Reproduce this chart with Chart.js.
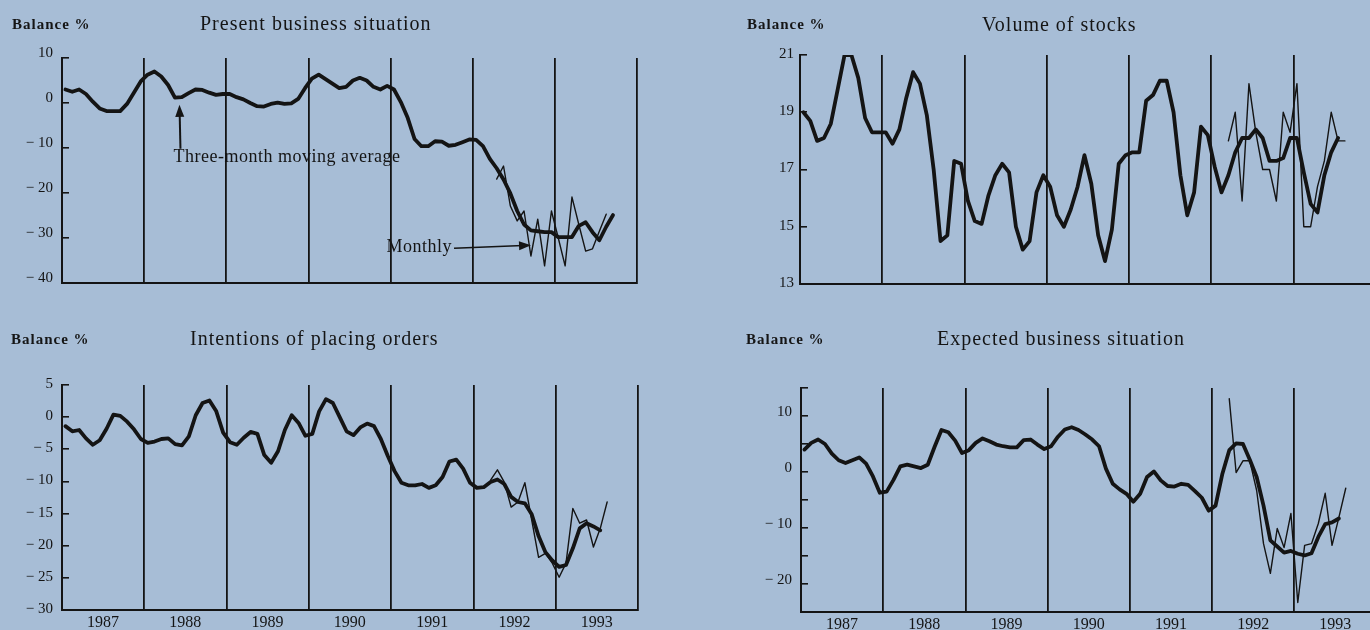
<!DOCTYPE html>
<html>
<head>
<meta charset="utf-8">
<title>Business survey balances</title>
<script src="https://cdn.jsdelivr.net/npm/chart.js@4.4.1/dist/chart.umd.min.js"></script>
<style>
  html, body { margin: 0; padding: 0; }
  body {
    width: 1370px; height: 630px; position: relative; overflow: hidden;
    background: #a7bdd6;
    font-family: "Liberation Serif", "DejaVu Serif", serif; color: #151515;
  }
  .panel { position: absolute; width: 685px; height: 315px; }
  .lbl { position: absolute; white-space: nowrap; line-height: 1; }
  .unit { font-size: 15px; font-weight: bold; letter-spacing: 1px; }
  .title { font-size: 20px; letter-spacing: 1px; }
</style>
</head>
<body>
<div class="panel" style="left:0;top:0"><canvas id="present"></canvas></div>
<div class="panel" style="left:685px;top:0"><canvas id="stocks"></canvas></div>
<div class="panel" style="left:0;top:315px"><canvas id="orders"></canvas></div>
<div class="panel" style="left:685px;top:315px"><canvas id="expected"></canvas></div>

<div class="lbl unit" style="left:12px;top:17px">Balance %</div>
<div class="lbl title" style="left:200px;top:13px">Present business situation</div>
<div class="lbl unit" style="left:747px;top:17px">Balance %</div>
<div class="lbl title" style="left:982px;top:14px">Volume of stocks</div>
<div class="lbl unit" style="left:11px;top:332px">Balance %</div>
<div class="lbl title" style="left:190px;top:328px">Intentions of placing orders</div>
<div class="lbl unit" style="left:746px;top:332px">Balance %</div>
<div class="lbl title" style="left:937px;top:328px">Expected business situation</div>

<script>
const INK = '#141414';
const FONT = '"Liberation Serif", "DejaVu Serif", serif';

// year boundaries (vertical rules) and the labels between them
const years = [1987, 1988, 1989, 1990, 1991, 1992, 1993, 1994];
const yearLabels = ['1987', '1988', '1989', '1990', '1991', '1992', '1993'];

// monthly points, index 0 = January 1987
const presentAvg = [
  3.0, 2.5, 3.0, 2.0, 0.3, -1.2, -1.8, -1.8, -1.8, -0.2, 2.3, 4.8,
  6.3, 7.0, 5.9, 4.0, 1.2, 1.3, 2.2, 3.0, 2.9, 2.3, 1.8, 2.0,
  2.0, 1.3, 0.8, 0.0, -0.7, -0.8, -0.2, 0.1, -0.2, -0.1, 0.9, 3.3,
  5.4, 6.3, 5.3, 4.3, 3.3, 3.6, 5.0, 5.6, 5.0, 3.6, 3.0, 3.8,
  3.0, 0.2, -3.3, -8.0, -9.6, -9.6, -8.5, -8.6, -9.5, -9.3, -8.7, -8.1,
  -8.2, -9.6, -12.4, -14.5, -17.0, -20.1, -24.0, -27.0, -28.3, -28.5, -28.7, -28.7,
  -29.8, -29.8, -29.8, -27.3, -26.5, -28.7, -30.5, -27.5, -24.9
];
const presentMonthlyStart = 63;
const presentMonthly = [
  -16.9, -14, -22.9, -26.2, -24, -34, -25.8, -36.2, -24, -30, -36.2, -20.9,
  -27, -32.9, -32.4, -28.5, -24.7
];
const presentTicks = [-40, -30, -20, -10, 0, 10];

const stocksAvg = [
  19.0, 18.7, 18.0, 18.1, 18.6, 19.8, 21.0, 21.0, 20.2, 18.8, 18.3, 18.3,
  18.3, 17.9, 18.4, 19.5, 20.4, 20.0, 18.9, 17.0, 14.5, 14.7, 17.3, 17.2,
  15.9, 15.2, 15.1, 16.1, 16.8, 17.2, 16.9, 15.0, 14.2, 14.5, 16.2, 16.8,
  16.4, 15.4, 15.0, 15.6, 16.4, 17.5, 16.5, 14.7, 13.8, 14.9, 17.2, 17.5,
  17.6, 17.6, 19.4, 19.6, 20.1, 20.1, 19.0, 16.8, 15.4, 16.2, 18.5, 18.2,
  17.1, 16.2, 16.8, 17.6, 18.1, 18.1, 18.4, 18.1, 17.3, 17.3, 17.4, 18.1,
  18.1, 16.9, 15.8, 15.5, 16.8, 17.6, 18.1
];
const stocksMonthlyStart = 62;
const stocksMonthly = [
  18.0, 19.0, 15.9, 20.0, 18.3, 17.0, 17.0, 15.9, 19.0, 18.3, 20.0, 15.0,
  15.0, 16.4, 17.3, 19.0, 18.0, 18.0
];
const stocksTicks = [13, 15, 17, 19, 21];

const ordersAvg = [
  -1.4, -2.2, -2.0, -3.3, -4.3, -3.6, -1.8, 0.4, 0.2, -0.7, -1.9, -3.4,
  -4.0, -3.8, -3.4, -3.3, -4.2, -4.4, -3.0, 0.3, 2.2, 2.6, 0.9, -2.4,
  -3.9, -4.3, -3.2, -2.3, -2.6, -5.9, -7.1, -5.3, -2.0, 0.3, -0.9, -2.9,
  -2.6, 0.9, 2.8, 2.2, 0.0, -2.2, -2.8, -1.6, -1.0, -1.4, -3.4, -6.0,
  -8.4, -10.2, -10.6, -10.6, -10.4, -11.0, -10.6, -9.3, -6.9, -6.6, -8.0, -10.2,
  -11.0, -10.9, -10.1, -9.7, -10.4, -12.4, -13.2, -13.4, -15.1, -18.5, -21.0, -22.3,
  -23.3, -23.0, -20.4, -17.3, -16.5, -17.0, -17.6
];
const ordersMonthlyStart = 62;
const ordersMonthly = [
  -9.8, -8.2, -10.1, -14, -13.2, -10.2, -16, -21.8, -21.2, -22.7, -24.9, -22.7,
  -14.2, -16.5, -16, -20.2, -17.3, -13.2
];
const ordersTicks = [-30, -25, -20, -15, -10, -5, 0, 5];

const expectAvg = [
  4.0, 5.2, 5.8, 5.0, 3.3, 2.1, 1.6, 2.1, 2.6, 1.5, -0.8, -3.7,
  -3.5, -1.4, 1.0, 1.3, 1.0, 0.7, 1.3, 4.5, 7.5, 7.1, 5.6, 3.4,
  3.9, 5.2, 6.0, 5.5, 4.9, 4.6, 4.4, 4.4, 5.7, 5.8, 4.9, 4.1,
  4.6, 6.3, 7.6, 8.0, 7.5, 6.7, 5.8, 4.6, 0.6, -2.1, -3.1, -3.9,
  -5.3, -3.9, -0.9, 0.1, -1.5, -2.5, -2.6, -2.1, -2.3, -3.4, -4.6, -6.9,
  -6.0, -0.3, 3.9, 5.1, 5.0, 2.2, -0.9, -6.0, -12.2, -13.3, -14.4, -14.1,
  -14.6, -14.9, -14.5, -11.6, -9.3, -9.0, -8.3
];
const expectMonthlyStart = 62;
const expectMonthly = [
  13.1, -0.1, 2, 2, -3.3, -12.8, -18.1, -10.1, -13.5, -7.4, -23.3, -13.1,
  -12.8, -9.2, -3.8, -13.1, -8.1, -2.9
];
const expectTicks = [-25, -20, -15, -10, -5, 0, 5, 10, 15];
const expectLabelled = [-20, -10, 0, 10];

function toPoints(values, start) {
  return values.map((v, i) => ({ x: 1987 + (start + i + 0.5) / 12, y: v }));
}

function signed(v) {
  return v < 0 ? '\u2212 ' + Math.abs(v) : String(v);
}

function drawArrow(ctx, x1, y1, x2, y2) {
  const a = Math.atan2(y2 - y1, x2 - x1);
  ctx.beginPath();
  ctx.moveTo(x1, y1);
  ctx.lineTo(x2 - 8 * Math.cos(a), y2 - 8 * Math.sin(a));
  ctx.stroke();
  ctx.beginPath();
  ctx.moveTo(x2, y2);
  ctx.lineTo(x2 - 12 * Math.cos(a) + 4.5 * Math.sin(a), y2 - 12 * Math.sin(a) - 4.5 * Math.cos(a));
  ctx.lineTo(x2 - 12 * Math.cos(a) - 4.5 * Math.sin(a), y2 - 12 * Math.sin(a) + 4.5 * Math.cos(a));
  ctx.closePath();
  ctx.fill();
}

// labels and arrows pointing at the two series in the first panel
const seriesNotes = {
  id: 'seriesNotes',
  afterDatasetsDraw(chart) {
    const { ctx, scales: { x, y } } = chart;
    ctx.save();
    ctx.fillStyle = INK;
    ctx.strokeStyle = INK;
    ctx.lineWidth = 2;
    ctx.font = '18px ' + FONT;
    ctx.letterSpacing = '0.5px';
    ctx.textBaseline = 'middle';

    const ax = x.getPixelForValue(1988.43), ay = y.getPixelForValue(-0.4);
    drawArrow(ctx, ax + 1, ay + 44, ax, ay);
    ctx.textAlign = 'left';
    ctx.fillText('Three-month moving average', ax - 6, ay + 52);

    const mx = x.getPixelForValue(1992.71), my = y.getPixelForValue(-31.6);
    ctx.lineWidth = 1.6;
    drawArrow(ctx, mx - 77, my + 3, mx, my);
    ctx.textAlign = 'right';
    ctx.fillText('Monthly', mx - 79, my + 2);
    ctx.restore();
  }
};

function buildPanel(id, cfg) {
  const ctx = document.getElementById(id).getContext('2d');
  return new Chart(ctx, {
    type: 'line',
    data: {
      datasets: [
        { label: 'Three-month moving average', data: toPoints(cfg.avg, 0), borderColor: INK, borderWidth: 3.8, order: 1 },
        { label: 'Monthly', data: toPoints(cfg.monthly, cfg.monthlyStart), borderColor: INK, borderWidth: 1.4, order: 2 }
      ]
    },
    options: {
      responsive: true,
      maintainAspectRatio: false,
      animation: false,
      layout: { padding: cfg.padding },
      elements: {
        point: { radius: 0 },
        line: { tension: 0, borderJoinStyle: 'round', borderCapStyle: 'round' }
      },
      plugins: { legend: { display: false }, tooltip: { enabled: false } },
      scales: {
        x: {
          type: 'linear',
          min: 1987,
          max: cfg.xMax,
          afterBuildTicks: s => { s.ticks = years.filter(v => v <= cfg.xMax).map(v => ({ value: v })); },
          afterFit: s => { s.height = cfg.xHeight; s.paddingLeft = 0; s.paddingRight = 0; },
          grid: { color: INK, lineWidth: 1.8, drawTicks: false },
          border: { color: INK, width: 2 },
          ticks: {
            display: cfg.showYears,
            autoSkip: false,
            maxRotation: 0,
            labelOffset: 41,
            padding: 3,
            color: INK,
            font: { family: FONT, size: 16 },
            callback: (v, i) => yearLabels[i] || ''
          }
        },
        y: {
          min: cfg.yTicks[0],
          max: cfg.yTicks[cfg.yTicks.length - 1],
          afterBuildTicks: s => { s.ticks = cfg.yTicks.map(v => ({ value: v })); },
          afterFit: s => { s.width = cfg.yWidth; s.paddingTop = 0; s.paddingBottom = 0; },
          grid: { drawOnChartArea: false, tickLength: -7, color: INK, lineWidth: 1.6 },
          border: { color: INK, width: 2 },
          ticks: {
            padding: cfg.labelPad,
            labelOffset: cfg.labelShift,
            color: INK,
            font: { family: FONT, size: 15 },
            callback: v => (cfg.labelled && !cfg.labelled.includes(v)) ? '' : signed(v)
          }
        }
      }
    },
    plugins: cfg.notes ? [seriesNotes] : []
  });
}

buildPanel('present', {
  avg: presentAvg, monthly: presentMonthly, monthlyStart: presentMonthlyStart,
  yTicks: presentTicks, xMax: 1994, showYears: false,
  yWidth: 62, xHeight: 0, labelPad: 16, labelShift: -5,
  padding: { left: 0, top: 58, right: 48, bottom: 32 },
  notes: true
});

buildPanel('stocks', {
  avg: stocksAvg, monthly: stocksMonthly, monthlyStart: stocksMonthlyStart,
  yTicks: stocksTicks, xMax: 1993.93, showYears: false,
  yWidth: 115, xHeight: 0, labelPad: 13, labelShift: -1,
  padding: { left: 0, top: 55, right: 0, bottom: 31 }
});

buildPanel('orders', {
  avg: ordersAvg, monthly: ordersMonthly, monthlyStart: ordersMonthlyStart,
  yTicks: ordersTicks, xMax: 1994, showYears: true,
  yWidth: 62, xHeight: 20, labelPad: 16, labelShift: -1,
  padding: { left: 0, top: 70, right: 47, bottom: 0 }
});

buildPanel('expected', {
  avg: expectAvg, monthly: expectMonthly, monthlyStart: expectMonthlyStart,
  yTicks: expectTicks, labelled: expectLabelled, xMax: 1993.92, showYears: true,
  yWidth: 116, xHeight: 18, labelPad: 16, labelShift: -4,
  padding: { left: 0, top: 73, right: 0, bottom: 0 }
});
</script>
</body>
</html>
